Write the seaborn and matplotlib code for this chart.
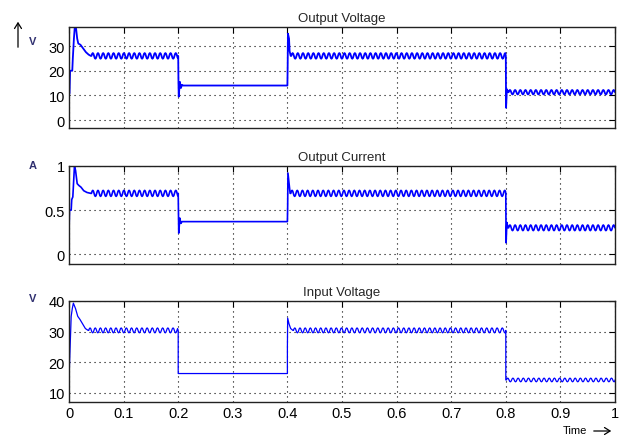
import numpy as np
import pandas as pd
import matplotlib
matplotlib.use('Agg')
import matplotlib.pyplot as plt
import seaborn as sns

# Time axis
TIME_TICKS = [0, 0.1, 0.2, 0.3, 0.4, 0.5, 0.6, 0.7, 0.8, 0.9, 1.0]
TIME_LABELS = ['0', '0.1', '0.2', '0.3', '0.4', '0.5', '0.6', '0.7', '0.8', '0.9', '1']

# one ripple cycle (relative), repeated over the steady parts
RIPPLE_PERIOD = 0.0095
RIPPLE_SHAPE = [0, 0.75, 1, 0.75, 0, -0.75, -1, -0.75]

# Output voltage: transient points at each switching edge, then steady level + ripple
VOUT_EDGE_T = [[0, 0, 0.001, 0.002, 0.006, 0.007, 0.009, 0.011, 0.013, 0.015, 0.017, 0.021, 0.026, 0.031, 0.036, 0.040],
               [0.2, 0.2005, 0.201, 0.203, 0.205, 0.207, 0.209],
               [0.4, 0.4005, 0.401, 0.403, 0.404, 0.406],
               [0.8, 0.8005, 0.802, 0.804]]
VOUT_EDGE_V = [[0, 10, 11, 20, 20, 25, 33, 39, 37, 33, 31, 30.5, 29, 27.5, 26.5, 26],
               [26, 15, 9.5, 15.5, 13, 14.3, 14],
               [14, 22, 35, 33, 28, 26],
               [26, 5, 12.5, 11.3]]
VOUT_LEVEL = [26, 14, 26, 11.3]
VOUT_RIPPLE = [1.15, 0, 1.15, 0.9]

# Output current
IOUT_EDGE_T = [[0, 0, 0.001, 0.004, 0.005, 0.007, 0.009, 0.010, 0.012, 0.015, 0.018, 0.022, 0.027, 0.033, 0.040],
               [0.2, 0.2005, 0.201, 0.203, 0.205, 0.207, 0.209],
               [0.4, 0.4005, 0.401, 0.403, 0.405],
               [0.8, 0.8005, 0.802, 0.804]]
IOUT_EDGE_V = [[0, 0.27, 0.5, 0.5, 0.62, 0.65, 0.9, 1.0, 0.95, 0.8, 0.78, 0.76, 0.72, 0.7, 0.69],
               [0.69, 0.5, 0.24, 0.41, 0.35, 0.37, 0.37],
               [0.37, 0.55, 0.92, 0.8, 0.69],
               [0.69, 0.13, 0.36, 0.3]]
IOUT_LEVEL = [0.69, 0.37, 0.69, 0.3]
IOUT_RIPPLE = [0.034, 0, 0.034, 0.032]

# Input voltage
VIN_EDGE_T = [[0, 0.0005, 0.002, 0.004, 0.006, 0.008, 0.012, 0.016, 0.020, 0.025, 0.030, 0.035],
              [0.2, 0.2],
              [0.4, 0.4, 0.4005, 0.403, 0.406, 0.410],
              [0.8, 0.8]]
VIN_EDGE_V = [[8.5, 17, 25, 35, 37.5, 39.3, 37.5, 35, 34, 32.5, 31, 30.4],
              [30.4, 16.3],
              [16.3, 25, 34.4, 32.5, 31, 30.4],
              [30.4, 14.2]]
VIN_LEVEL = [30.4, 16.3, 30.4, 14.2]
VIN_RIPPLE = [0.8, 0, 0.8, 0.6]


def build_series(edge_t, edge_v, level, ripple):
    ts, vs = [], []
    step = RIPPLE_PERIOD / len(RIPPLE_SHAPE)
    for i in range(len(edge_t)):
        ts += edge_t[i]
        vs += edge_v[i]
        t0 = edge_t[i][-1]
        t1 = edge_t[i + 1][0] if i + 1 < len(edge_t) else 1.0
        n = int((t1 - t0) / step)
        tr = t0 + np.arange(1, n + 1) * step
        vr = level[i] + ripple[i] * np.resize(RIPPLE_SHAPE, n)
        ts += list(tr)
        vs += list(vr)
        ts.append(t1)
        vs.append(level[i])
    return pd.DataFrame({'t': ts, 'v': vs})


sns.set_style('white')
plt.rcParams['font.family'] = ['Liberation Sans', 'DejaVu Sans']

W, H = 625, 439
fig = plt.figure(figsize=(W / 100, H / 100), dpi=100)
fig.patch.set_facecolor('white')


def px_axes(top, bottom, left=69, right=615):
    return fig.add_axes([left / W, 1 - bottom / H, (right - left) / W, (bottom - top) / H])


panels = [
    dict(edges=(VOUT_EDGE_T, VOUT_EDGE_V, VOUT_LEVEL, VOUT_RIPPLE), top=28, bottom=129,
         ylim=(-3.2, 37.7), yticks=[0, 10, 20, 30], ylabels=['0', '10', '20', '30'],
         title='Output Voltage', lw=1.3),
    dict(edges=(IOUT_EDGE_T, IOUT_EDGE_V, IOUT_LEVEL, IOUT_RIPPLE), top=167, bottom=265,
         ylim=(-0.11, 1.0), yticks=[0, 0.5, 1], ylabels=['0', '0.5', '1'],
         title='Output Current', lw=1.2),
    dict(edges=(VIN_EDGE_T, VIN_EDGE_V, VIN_LEVEL, VIN_RIPPLE), top=302, bottom=403,
         ylim=(7.0, 40.0), yticks=[10, 20, 30, 40], ylabels=['10', '20', '30', '40'],
         title='Input Voltage', lw=0.9),
]

for i, p in enumerate(panels):
    ax = px_axes(p['top'], p['bottom'])
    df = build_series(*p['edges'])
    sns.lineplot(data=df, x='t', y='v', ax=ax, color='#0000ff', lw=p['lw'],
                 sort=False, estimator=None)
    ax.set_xlim(0, 1)
    ax.set_ylim(*p['ylim'])
    ax.set_xticks(TIME_TICKS)
    ax.set_yticks(p['yticks'])
    ax.set_yticklabels(p['ylabels'])
    if i == 2:
        ax.set_xticklabels(TIME_LABELS)
    else:
        ax.set_xticklabels([])
    ax.set_xlabel('')
    ax.set_ylabel('')
    ax.grid(True, color='black', linestyle=(0, (1, 3.5)), linewidth=0.8)
    ax.tick_params(direction='in', length=4, width=0.8, top=True, right=True,
                   labelsize=10.5, pad=3, colors='black')
    for s in ax.spines.values():
        s.set_color('#222222')
        s.set_linewidth(1.0)
    ax.set_title(p['title'], fontsize=9.5, pad=4)

# unit labels and arrows
fig.text(33 / W, 1 - 42 / H, 'V', fontsize=8, fontweight='bold', color='#303070', ha='center', va='center')
fig.text(33 / W, 1 - 166 / H, 'A', fontsize=8, fontweight='bold', color='#303070', ha='center', va='center')
fig.text(33 / W, 1 - 299 / H, 'V', fontsize=8, fontweight='bold', color='#303070', ha='center', va='center')
fig.text(575 / W, 1 - 431 / H, 'Time', fontsize=8, color='black', ha='center', va='center')

fig.add_artist(matplotlib.patches.FancyArrowPatch(
    (18 / W, 1 - 51 / H), (18 / W, 1 - 20 / H), transform=fig.transFigure,
    arrowstyle='->,head_length=4,head_width=2.5', color='black', lw=0.9))
fig.add_artist(matplotlib.patches.FancyArrowPatch(
    (591 / W, 1 - 432 / H), (614 / W, 1 - 432 / H), transform=fig.transFigure,
    arrowstyle='->,head_length=4,head_width=2.5', color='black', lw=0.9))

fig.savefig('out.png', dpi=100, facecolor='white')
